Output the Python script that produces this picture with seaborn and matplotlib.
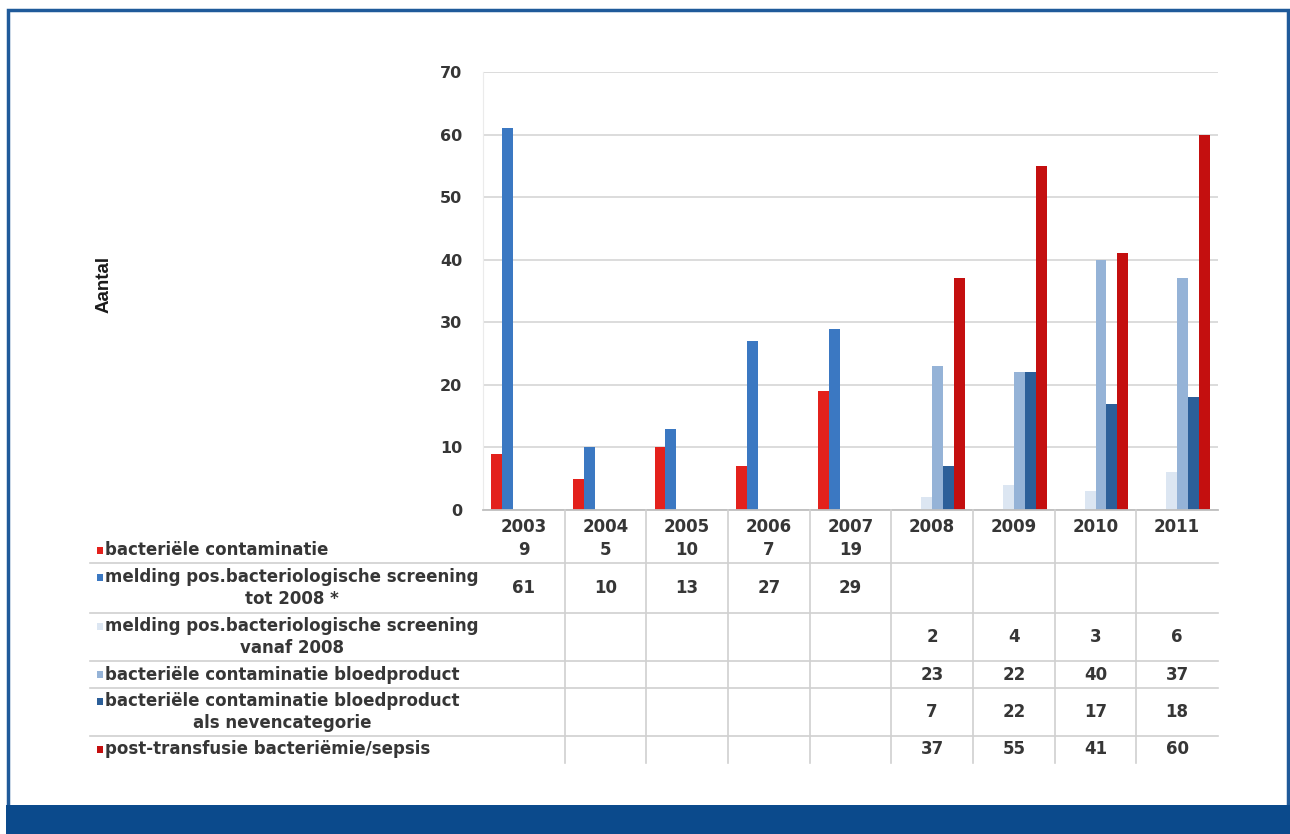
import matplotlib
matplotlib.use("Agg")
import matplotlib.pyplot as plt
import seaborn as sns
import pandas as pd
import numpy as np
from matplotlib.patches import Rectangle
from matplotlib.lines import Line2D

years = ["2003", "2004", "2005", "2006", "2007", "2008", "2009", "2010", "2011"]
series_names = [
    "bacteriële contaminatie",
    "melding pos.bacteriologische screening\ntot 2008 *",
    "melding pos.bacteriologische screening\nvanaf 2008",
    "bacteriële contaminatie bloedproduct",
    "bacteriële contaminatie bloedproduct\nals nevencategorie",
    "post-transfusie bacteriëmie/sepsis",
]
bact_contaminatie = [9, 5, 10, 7, 19, None, None, None, None]
melding_tot_2008 = [61, 10, 13, 27, 29, None, None, None, None]
melding_vanaf_2008 = [None, None, None, None, None, 2, 4, 3, 6]
bact_bloedproduct = [None, None, None, None, None, 23, 22, 40, 37]
bact_neven = [None, None, None, None, None, 7, 22, 17, 18]
post_transfusie = [None, None, None, None, None, 37, 55, 41, 60]
yticks = [0, 10, 20, 30, 40, 50, 60, 70]

all_series = [bact_contaminatie, melding_tot_2008, melding_vanaf_2008,
              bact_bloedproduct, bact_neven, post_transfusie]
colors = ["#E3211C", "#3B78C2", "#DCE6F2", "#95B3D7", "#2C5F99", "#C40F0F"]

rows = []
for name, vals in zip(series_names, all_series):
    for y, v in zip(years, vals):
        if v is not None:
            rows.append({"year": y, "series": name, "value": v})
df = pd.DataFrame(rows)

W, H = 1290, 834
fig = plt.figure(figsize=(W / 100, H / 100), dpi=100)
fig.patch.set_facecolor("white")

def fx(x):
    return x / W

def fy(y):
    return 1 - y / H

FONT = "DejaVu Sans"
x0, x1 = 483, 1218
y0, y1 = 510, 72
ax = fig.add_axes([fx(x0), fy(y0), fx(x1) - fx(x0), fy(y1) - fy(y0)])
sns.barplot(data=df, x="year", y="value", hue="series", order=years,
            hue_order=series_names, palette=dict(zip(series_names, colors)),
            width=0.8, saturation=1, dodge=True, ax=ax, legend=False)

ax.set_xlim(-0.5, len(years) - 0.5)
ax.set_ylim(0, 70)
ax.set_yticks(yticks)
ax.set_yticklabels([str(t) for t in yticks])
ax.yaxis.grid(True, color="#D9D9D9", linewidth=1.3)
ax.set_axisbelow(True)
ax.set_xlabel("")
ax.set_ylabel("")
ax.set_xticks([])
for side in ["top", "right"]:
    ax.spines[side].set_visible(False)
ax.spines["left"].set_color("#EBEBEB")
ax.spines["bottom"].set_color("#BFBFBF")
ax.spines["bottom"].set_linewidth(1.3)
ax.tick_params(axis="y", length=0, pad=15, labelsize=11.5, labelcolor="#363636")
for lab in ax.get_yticklabels():
    lab.set_fontweight("bold")
    lab.set_family(FONT)

txt_kw = dict(family=FONT, fontweight="bold", color="#363636", fontsize=12)

colw = (x1 - x0) / len(years)
ax.text(-0.5 - (x0 - 104) / colw, 36, "Aantal",
        rotation=90, ha="center", va="center", transform=ax.transData,
        family="Liberation Sans", fontweight="bold", fontsize=13.5, color="#1a1a1a",
        clip_on=False)

# Data table
row_bounds = [510, 563, 613, 661, 688, 736, 763]
header_y = 527
for i, y in enumerate(years):
    fig.text(fx(x0 + (i + 0.5) * colw), fy(header_y), y, ha="center", va="center", **txt_kw)

for r, (name, vals, col) in enumerate(zip(series_names, all_series, colors)):
    top = row_bounds[r] if r > 0 else 537
    bot = row_bounds[r + 1]
    cy = (top + bot) / 2
    for i, v in enumerate(vals):
        if v is not None:
            fig.text(fx(x0 + (i + 0.5) * colw), fy(cy), str(v), ha="center", va="center", **txt_kw)
    nlines = name.count("\n") + 1
    fig.text(fx(105), fy(cy), name, ha="left", va="center", multialignment="center",
             linespacing=1.25, **txt_kw)
    first_y = cy - (nlines - 1) * 11
    fig.add_artist(Rectangle((fx(97), fy(first_y + 3.5)), 6 / W, 7 / H,
                             transform=fig.transFigure, facecolor=col, edgecolor="none"))

for yb in row_bounds[1:-1]:
    fig.add_artist(Line2D([fx(90), fx(x1)], [fy(yb), fy(yb)], transform=fig.transFigure,
                          color="#D0D0D0", linewidth=1.2))
for k in range(1, len(years)):
    xv = x0 + k * colw
    fig.add_artist(Line2D([fx(xv), fx(xv)], [fy(510), fy(763)], transform=fig.transFigure,
                          color="#D0D0D0", linewidth=1.2))

# Frame and bottom band
frame_col = "#1F5A9A"
fig.add_artist(Rectangle((fx(8), fy(832)), fx(1288) - fx(8), fy(10) - fy(832),
                         transform=fig.transFigure, facecolor="none",
                         edgecolor=frame_col, linewidth=2.5))
fig.add_artist(Rectangle((fx(6), 0), 1 - fx(6), fy(805), transform=fig.transFigure,
                         facecolor="#0B4A8C", edgecolor="none"))

fig.savefig("out.png", dpi=100)
